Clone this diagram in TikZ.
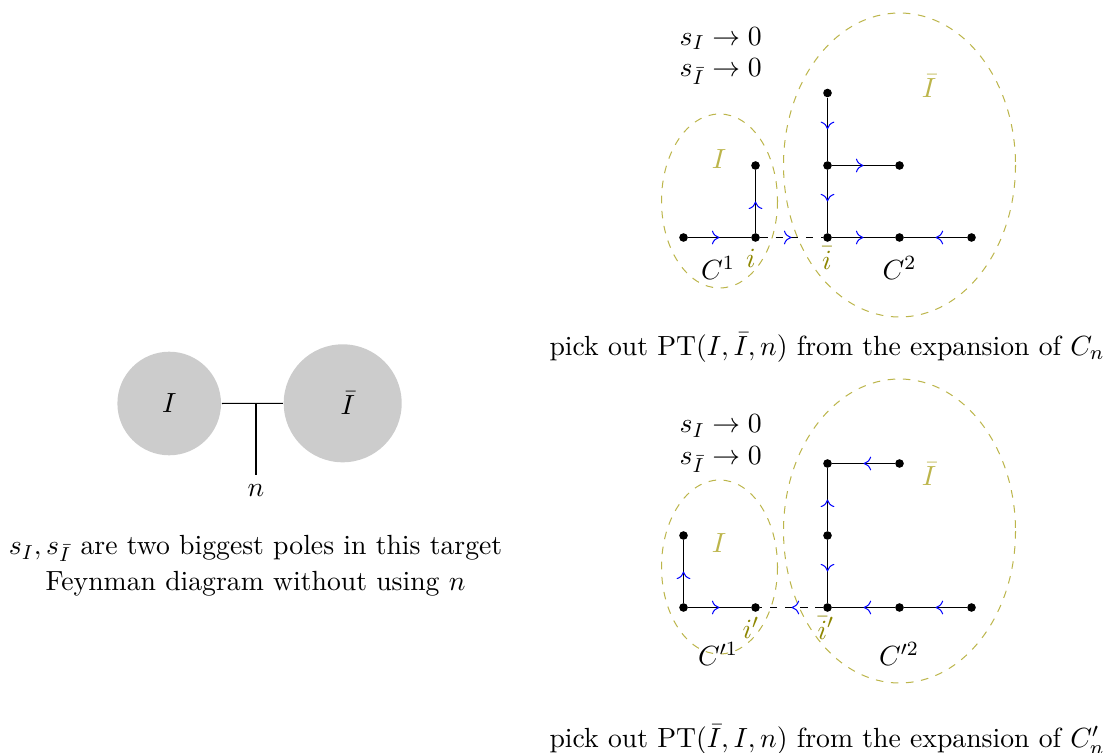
\documentclass[tikz,border=0pt]{standalone}
\usepackage{amsmath}
\usetikzlibrary{decorations.markings,arrows.meta}
\DeclareMathOperator{\PT}{PT}
\tikzset{
  every node/.style={font=\fontsize{10.95}{14.2}\selectfont},
  vtx/.style={circle,fill=black,inner sep=0pt,minimum size=3.4pt,outer sep=0.2pt},
  blob/.style={circle,fill=black!20,inner sep=0pt,outer sep=0.3pt},
  region/.style={draw=olive!60,dashed,line width=0.4pt},
  arr/.style={postaction={decorate},decoration={markings,mark=at position 0.5 with {\arrow[blue,line width=0.4pt]{Computer Modern Rightarrow[length=3pt,width=5.4pt]}}}},
  regionlabel/.style={text=olive!60},
  cutlabel/.style={text=olive},
}
\begin{document}
\begin{tikzpicture}[x=1cm/72,y=-1cm/72]
\path[use as bounding box] (0,0) rectangle (1107,753);
\clip (0,0) rectangle (1107,753);
% left diagram
\node[blob,minimum size=103.6cm/72] (blobI) at (169.2,403.5) {$I$};
\node[blob,minimum size=118cm/72] (blobJ) at (342.7,403.3) {$\hspace{4pt}\bar I$};
\coordinate (junction) at (256,403.5);
\coordinate (nEnd) at (256,475);
\draw (blobI.east) -- (blobJ.west);
\draw (junction) -- (nEnd);
\node (nLabel) at (256,491) {$n$};
\node[align=center] (capL) at (255.5,566) {$s_I,s_{\bar I}$ are two biggest poles in this target\\Feynman diagram without using $n$};
% top right regions
\draw[region] (719.5,201) ellipse [x radius=58,y radius=87];
\draw[region] (899.5,165) ellipse [x radius=116,y radius=152];
% top right vertices
\node[vtx] (a1) at (683.5,237.5) {};
\node[vtx] (a2) at (755.5,237.5) {};
\node[vtx] (a3) at (827.5,237.5) {};
\node[vtx] (a4) at (899.5,237.5) {};
\node[vtx] (a5) at (971.5,237.5) {};
\node[vtx] (a6) at (755.5,165.5) {};
\node[vtx] (a7) at (827.5,93) {};
\node[vtx] (a8) at (827.5,165.5) {};
\node[vtx] (a9) at (899.5,165.5) {};
\draw[arr] (a1) -- (a2);
\draw[arr] (a2) -- (a6);
\draw[arr,dashed] (a2) -- (a3);
\draw[arr] (a3) -- (a4);
\draw[arr] (a5) -- (a4);
\draw[arr] (a7) -- (a8);
\draw[arr] (a8) -- (a3);
\draw[arr] (a8) -- (a9);
\node[anchor=base west,inner sep=0pt] (s1) at (679,45.5) {$s_I\to0$};
\node[anchor=base west,inner sep=0pt] (s2) at (679,77) {$s_{\bar I}\to0$};
\node[regionlabel] (lI) at (719,159) {$I$};
\node[regionlabel] (lJ) at (929,86) {$\bar I$};
\node[cutlabel] (li) at (751,258) {$i$};
\node[cutlabel] (lj) at (827,258) {$\bar i$};
\node (c1) at (718,268) {$C^1$};
\node (c2) at (899.5,268) {$C^2$};
\node (capT) at (827,347.5) {pick out $\PT(I,\bar I,n)$ from the expansion of $C_n$};
% bottom right regions
\draw[region] (719.5,567) ellipse [x radius=58,y radius=87];
\draw[region] (899.5,531) ellipse [x radius=116,y radius=152];
% bottom right vertices
\node[vtx] (b1) at (683.5,607.5) {};
\node[vtx] (b2) at (755.5,607.5) {};
\node[vtx] (b3) at (827.5,607.5) {};
\node[vtx] (b4) at (899.5,607.5) {};
\node[vtx] (b5) at (971.5,607.5) {};
\node[vtx] (b6) at (683.5,535.5) {};
\node[vtx] (b7) at (827.5,463.5) {};
\node[vtx] (b8) at (827.5,535.5) {};
\node[vtx] (b9) at (899.5,463.5) {};
\draw[arr] (b1) -- (b2);
\draw[arr] (b1) -- (b6);
\draw[arr,dashed] (b3) -- (b2);
\draw[arr] (b4) -- (b3);
\draw[arr] (b5) -- (b4);
\draw[arr] (b8) -- (b7);
\draw[arr] (b8) -- (b3);
\draw[arr] (b9) -- (b7);
\node[anchor=base west,inner sep=0pt] (t1) at (679,433) {$s_I\to0$};
\node[anchor=base west,inner sep=0pt] (t2) at (679,465) {$s_{\bar I}\to0$};
\node[regionlabel] (mI) at (719,543) {$I$};
\node[regionlabel] (mJ) at (929,474) {$\bar I$};
\node[cutlabel] (mi) at (751,628) {$i'$};
\node[cutlabel] (mj) at (826,628) {$\bar i'$};
\node (d1) at (718,654) {$C'^1$};
\node (d2) at (899,654) {$C'^2$};
\node (capB) at (827,739.5) {pick out $\PT(\bar I,I,n)$ from the expansion of $C'_n$};
\end{tikzpicture}
\end{document}
